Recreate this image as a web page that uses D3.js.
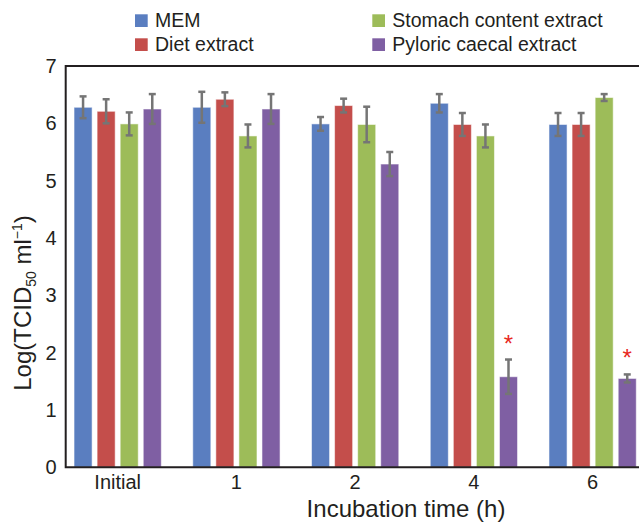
<!DOCTYPE html>
<html>
<head>
<meta charset="utf-8">
<script src="https://cdn.jsdelivr.net/npm/d3@7"></script>
<style>
  html, body { margin: 0; padding: 0; background: #fff; }
  svg { display: block; font-family: "Liberation Sans", Arial, Helvetica, sans-serif; }
</style>
</head>
<body>
<svg id="chart" width="639" height="524"></svg>
<script>
// ---- Data ----
const categories = ["Initial", "1", "2", "4", "6"];
const seriesNames = ["MEM", "Diet extract", "Stomach content extract", "Pyloric caecal extract"];
const memValues      = [6.28, 6.28, 5.99, 6.35, 5.98];
const memErrors      = [0.19, 0.27, 0.12, 0.16, 0.20];
const dietValues     = [6.21, 6.42, 6.31, 5.98, 5.98];
const dietErrors     = [0.21, 0.12, 0.12, 0.20, 0.20];
const stomachValues  = [5.99, 5.78, 5.98, 5.78, 6.45];
const stomachErrors  = [0.20, 0.20, 0.31, 0.20, 0.06];
const pyloricValues  = [6.25, 6.25, 5.29, 1.58, 1.55];
const pyloricErrors  = [0.26, 0.26, 0.21, 0.30, 0.07];
const significant    = [false, false, false, true, true]; // pyloric only
const yTicks = [0, 1, 2, 3, 4, 5, 6, 7];
const colors = ["#5A7EC0", "#C44E4B", "#9DBC59", "#7F5FA3"];

const values = [memValues, dietValues, stomachValues, pyloricValues];
const errors = [memErrors, dietErrors, stomachErrors, pyloricErrors];

// ---- Layout ----
const svg = d3.select("#chart");
const plotLeft = 65.7, plotTop = 66, plotBottom = 467.3, plotRight = 660;

const x0 = d3.scaleBand().domain(categories).range([58.3, 652]).paddingInner(0.265).paddingOuter(0.1325);
const x1 = d3.scaleBand().domain(seriesNames).range([0, x0.bandwidth()]).paddingInner(0.217).paddingOuter(0);
const y = d3.scaleLinear().domain([0, 7]).range([plotBottom, plotTop]);

// data rows
const rows = [];
categories.forEach((c, i) => {
  seriesNames.forEach((s, j) => {
    rows.push({ cat: c, series: s, si: j, v: values[j][i], e: errors[j][i], sig: j === 3 && significant[i] });
  });
});

// bars
svg.append("g").selectAll("rect").data(rows).join("rect")
  .attr("x", d => x0(d.cat) + x1(d.series))
  .attr("y", d => y(d.v))
  .attr("width", x1.bandwidth())
  .attr("height", d => y(0) - y(d.v))
  .attr("fill", d => colors[d.si])
  .attr("stroke", "rgba(255,255,255,0.55)")
  .attr("stroke-width", 1);

// error bars
const eg = svg.append("g").attr("stroke", "#757575").attr("stroke-width", 2.5).attr("fill", "none");
rows.forEach(d => {
  const cx = x0(d.cat) + x1(d.series) + x1.bandwidth() / 2;
  const yt = y(d.v + d.e), yb = y(d.v - d.e);
  eg.append("line").attr("x1", cx).attr("x2", cx).attr("y1", yt).attr("y2", yb);
  eg.append("line").attr("x1", cx - 3.5).attr("x2", cx + 3.5).attr("y1", yt).attr("y2", yt);
  eg.append("line").attr("x1", cx - 3.5).attr("x2", cx + 3.5).attr("y1", yb).attr("y2", yb);
});

// asterisks
svg.append("g").selectAll("text").data(rows.filter(d => d.sig)).join("text")
  .attr("x", d => x0(d.cat) + x1(d.series) + x1.bandwidth() / 2)
  .attr("y", d => y(d.v + d.e) - 8)
  .attr("text-anchor", "middle")
  .attr("font-size", 24)
  .attr("fill", "#E8281E")
  .text("*");

// frame
const frame = svg.append("g").attr("stroke", "#231F20").attr("stroke-width", 2).attr("fill", "none");
frame.append("path").attr("d", `M${plotRight},${plotTop}H${plotLeft}V${plotBottom}H${plotRight}`);

// y axis
const yAxis = svg.append("g").attr("transform", `translate(${plotLeft},0)`)
  .call(d3.axisLeft(y).tickValues(yTicks).tickFormat(d3.format("d")).tickSize(0).tickPadding(9));
yAxis.select(".domain").remove();
yAxis.selectAll("text").attr("font-size", 20).attr("fill", "#231F20")
  .attr("font-family", "Liberation Sans, Arial, sans-serif");

// x axis
const xAxis = svg.append("g").attr("transform", `translate(0,${plotBottom})`)
  .call(d3.axisBottom(x0).tickSize(0).tickPadding(8));
xAxis.select(".domain").remove();
xAxis.selectAll("text").attr("font-size", 20).attr("fill", "#231F20")
  .attr("font-family", "Liberation Sans, Arial, sans-serif");

// axis titles
svg.append("text").attr("x", 406).attr("y", 517).attr("text-anchor", "middle")
  .attr("font-size", 24).attr("fill", "#231F20").text("Incubation time (h)");

const yt = svg.append("text").attr("transform", "translate(31,303) rotate(-90)")
  .attr("text-anchor", "middle").attr("font-size", 24).attr("fill", "#231F20");
yt.append("tspan").text("Log(TCID");
yt.append("tspan").attr("font-size", 14).attr("dy", 5).text("50");
yt.append("tspan").attr("dy", -5).text(" ml");
yt.append("tspan").attr("font-size", 14).attr("dy", -9).text("\u22121");
yt.append("tspan").attr("dy", 9).text(")");

// legend
const legendPos = [[135, 14.3], [135, 38.3], [372.3, 14.3], [372.3, 38.3]];
const lg = svg.append("g");
seriesNames.forEach((s, i) => {
  const [lx, ly] = legendPos[i];
  lg.append("rect").attr("x", lx).attr("y", ly).attr("width", 12.7).attr("height", 12.7).attr("fill", colors[i]);
  lg.append("text").attr("x", lx + 20).attr("y", ly + 12.7).attr("font-size", 19.5)
    .attr("fill", "#231F20").text(s);
});
</script>
</body>
</html>
